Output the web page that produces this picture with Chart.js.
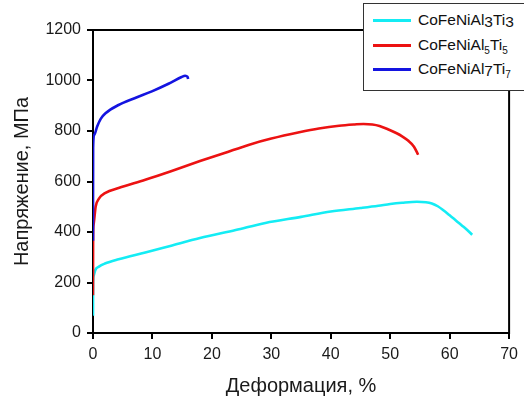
<!DOCTYPE html>
<html>
<head>
<meta charset="utf-8">
<script src="https://cdn.jsdelivr.net/npm/chart.js@4/dist/chart.umd.min.js"></script>
<style>
  html, body { margin: 0; padding: 0; background: #fff; }
  #wrap { position: relative; width: 524px; height: 405px; overflow: hidden; font-family: "Liberation Sans", Arial, sans-serif; }
  #legend { position: absolute; left: 363px; top: 3px; width: 170px; height: 88px; border: 1px solid #333; background: #fff; box-sizing: border-box; }
  .row { position: absolute; left: 0; height: 20px; width: 170px; }
  .sw { position: absolute; left: 9px; top: 9px; width: 38px; height: 3px; }
  .tx { position: absolute; left: 54px; top: 0; font-size: 15.5px; line-height: 20px; color: #111; white-space: nowrap; }
  .lo { position: relative; top: 2px; }
  .sb { font-size: 10px; position: relative; top: 4px; }
</style>
</head>
<body>
<div id="wrap">
  <canvas id="c" width="524" height="405"></canvas>
  <div id="legend"></div>
</div>
<script>
// ---- data ----
const seriesNames = ['CoFeNiAl3Ti3', 'CoFeNiAl5Ti5', 'CoFeNiAl7Ti7'];
const legendHtml = [
  'CoFeNiAl<span class="lo">3</span>Ti<span class="lo">3</span>',
  'CoFeNiAl<span class="sb">5</span>Ti<span class="sb">5</span>',
  'CoFeNiAl<span class="lo">7</span>Ti<span class="sb">7</span>'
];
const seriesColors = ['#14ecf4', '#ec1212', '#1414e0'];

const strain3 = [0, 0.02, 0.1, 0.4, 1.0, 2.0, 4.3, 8.8, 13, 18, 24, 29, 35, 40, 45, 48, 50, 52, 54.5, 56, 57, 58, 59, 60, 61, 62, 63, 63.8];
const stress3 = [68, 200, 226, 250, 263, 275, 292, 319, 345, 376, 408, 436, 460, 481, 495, 504, 511, 516, 520, 518, 513, 502, 485, 466, 447, 427, 407, 389];

const strain5 = [0, 0.02, 0.1, 0.45, 1.0, 2.1, 4.3, 8.8, 13, 18, 22, 26.3, 30, 34.7, 38, 41.4, 44, 45.5, 47, 48.2, 49.8, 51, 52, 53, 54, 54.7];
const stress5 = [150, 380, 430, 501, 532, 555, 574, 607, 640, 681, 712, 746, 770, 795, 810, 821, 826, 828, 826, 820, 805, 792, 779, 762, 738, 706];

const strain7 = [0, 0.02, 0.2, 0.7, 1.3, 2.1, 4.3, 7.1, 9.9, 12.7, 14.9, 15.5, 15.9, 16.0];
const stress7 = [365, 734, 785, 818, 848, 870, 903, 931, 957, 987, 1014, 1019, 1015, 1006];

const xTicks = [0, 10, 20, 30, 40, 50, 60, 70];
const yTicks = [0, 200, 400, 600, 800, 1000, 1200];

const xTitle = 'Деформация, %';
const yTitle = 'Напряжение, МПа';

// ---- build chart ----
const pts = (xs, ys) => xs.map((x, i) => ({ x: x, y: ys[i] }));
const allX = [strain3, strain5, strain7];
const allY = [stress3, stress5, stress7];

const legend = document.getElementById('legend');
legendHtml.forEach((h, i) => {
  const r = document.createElement('div');
  r.className = 'row';
  r.style.top = (16 + i * 24.5 - 10) + 'px';
  r.innerHTML = '<div class="sw" style="background:' + seriesColors[i] + '"></div><div class="tx">' + h + '</div>';
  legend.appendChild(r);
});

const frame = {
  id: 'frame',
  beforeDatasetsDraw(chart) {
    const a = chart.chartArea, ctx = chart.ctx;
    ctx.save();
    ctx.strokeStyle = '#000';
    ctx.lineWidth = 2;
    ctx.strokeRect(a.left, a.top, a.right - a.left, a.bottom - a.top);
    ctx.restore();
  }
};

const font = { family: '"Liberation Sans", Arial, sans-serif' };

new Chart(document.getElementById('c'), {
  type: 'line',
  data: {
    datasets: seriesNames.map((n, i) => ({
      label: n,
      data: pts(allX[i], allY[i]),
      borderColor: seriesColors[i],
      backgroundColor: seriesColors[i],
      borderWidth: 2.6,
      pointRadius: 0,
      cubicInterpolationMode: 'monotone',
      fill: false,
      order: 3 - i
    }))
  },
  options: {
    responsive: false,
    animation: false,
    events: [],
    layout: { padding: { left: 0, right: 14, top: 30, bottom: 0 } },
    plugins: { legend: { display: false }, tooltip: { enabled: false } },
    scales: {
      x: {
        type: 'linear',
        min: xTicks[0], max: xTicks[xTicks.length - 1],
        afterBuildTicks: s => { s.ticks = xTicks.map(v => ({ value: v })); },
        afterFit: s => { s.height = 72; },
        grid: { display: true, drawOnChartArea: false, drawTicks: true, tickLength: 6, color: '#000', lineWidth: 2 },
        border: { display: false },
        ticks: { color: '#1a1a1a', padding: 6, font: { ...font, size: 16 }, maxRotation: 0, callback: v => String(v) },
        title: { display: true, text: xTitle, color: '#1a1a1a', font: { ...font, size: 20 }, padding: { top: 0, bottom: 7 } }
      },
      y: {
        type: 'linear',
        min: yTicks[0], max: yTicks[yTicks.length - 1],
        afterBuildTicks: s => { s.ticks = yTicks.map(v => ({ value: v })); },
        afterFit: s => { s.width = 93; },
        grid: { display: true, drawOnChartArea: false, drawTicks: true, tickLength: 6, color: '#000', lineWidth: 2 },
        border: { display: false },
        ticks: { color: '#1a1a1a', padding: 6, font: { ...font, size: 16 }, callback: v => String(v) },
        title: { display: true, text: yTitle, color: '#1a1a1a', font: { ...font, size: 20 }, padding: { top: 10, bottom: 0 } }
      }
    }
  },
  plugins: [frame]
});
</script>
</body>
</html>
